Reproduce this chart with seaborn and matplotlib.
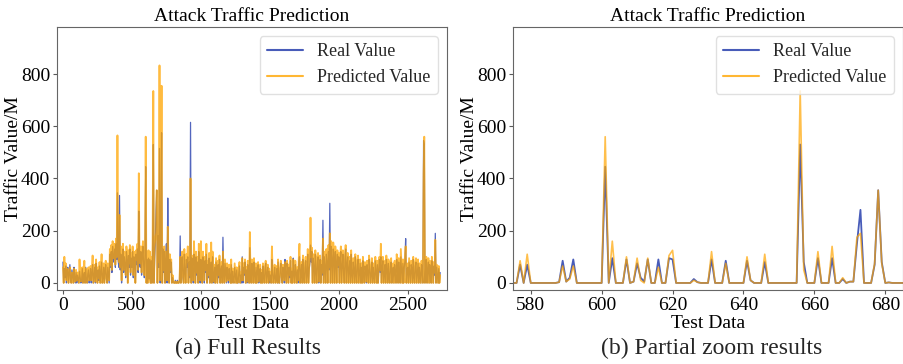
import numpy as np
import seaborn as sns
from matplotlib import pyplot as plt

# ------------------------------------------------------------------------------------------------------------
# Full test set (sampled every 5 points), read off panel (a)
full_step = 5
full_real = [
    80, 0, 55, 20, 65, 0, 45, 60, 0, 35, 70, 10, 0, 50, 25, 0, 60, 15, 0, 40,
    0, 30, 15, 0, 45, 20, 0, 10, 55, 0, 25, 40, 0, 60, 5, 0, 35, 50, 0, 20,
    55, 0, 40, 70, 0, 25, 60, 0, 75, 30, 0, 50, 10, 65, 0, 40, 80, 0, 20, 60,
    0, 45, 70, 15, 0, 60, 30, 0, 110, 60, 120, 40, 140, 80, 100, 130, 60, 150, 90, 345,
    90, 60, 335, 50, 110, 0, 80, 130, 40, 100, 70, 20, 120, 90, 0, 105, 60, 130, 30, 95,
    60, 120, 20, 100, 80, 0, 110, 70, 130, 40, 275, 90, 60, 120, 30, 100, 140, 70, 20, 110,
    445, 0, 90, 0, 95, 15, 90, 0, 85, 0, 120, 530, 0, 95, 160, 280, 355, 0, 180, 60,
    515, 0, 150, 575, 0, 130, 40, 120, 0, 90, 150, 0, 325, 70, 0, 90, 40, 80, 0, 20,
    5, 0, 0, 10, 0, 0, 10, 0, 0, 5, 180, 0, 60, 100, 20, 0, 110, 40, 0, 90,
    60, 100, 0, 80, 20, 615, 0, 95, 40, 0, 110, 60, 0, 100, 30, 80, 0, 120, 50, 0,
    90, 30, 0, 100, 60, 0, 85, 40, 110, 0, 70, 20, 95, 0, 50, 80, 0, 100, 30, 0,
    60, 0, 80, 40, 0, 70, 20, 90, 0, 50, 65, 0, 175, 30, 0, 75, 40, 0, 60, 20,
    0, 55, 20, 0, 70, 0, 45, 10, 0, 60, 30, 0, 50, 0, 0, 40, 65, 0, 30, 0,
    100, 0, 60, 30, 80, 0, 50, 0, 70, 40, 0, 135, 20, 0, 75, 50, 0, 80, 30, 0,
    60, 0, 45, 70, 0, 30, 55, 0, 40, 0, 65, 20, 0, 50, 75, 0, 35, 60, 0, 45,
    0, 30, 0, 90, 40, 0, 20, 60, 0, 10, 55, 0, 80, 0, 0, 45, 75, 20, 0, 60,
    40, 0, 90, 30, 0, 75, 50, 0, 60, 20, 85, 0, 45, 0, 95, 30, 0, 70, 40, 0,
    50, 0, 80, 100, 0, 40, 70, 0, 90, 20, 0, 60, 85, 0, 30, 110, 0, 50, 75, 145,
    80, 120, 0, 95, 60, 0, 110, 40, 0, 85, 100, 0, 50, 90, 0, 70, 30, 240, 0, 100,
    60, 0, 110, 80, 0, 120, 50, 305, 0, 140, 90, 0, 130, 100, 0, 120, 80, 0, 110, 60,
    100, 0, 80, 120, 0, 60, 110, 40, 0, 90, 130, 0, 70, 100, 0, 50, 85, 0, 110, 30,
    0, 80, 50, 0, 100, 30, 0, 70, 90, 0, 40, 75, 0, 60, 0, 85, 30, 0, 65, 45,
    0, 70, 40, 0, 90, 55, 0, 30, 80, 0, 60, 20, 0, 85, 45, 0, 70, 0, 50, 90,
    40, 100, 0, 60, 85, 0, 30, 70, 0, 90, 50, 0, 75, 20, 0, 65, 80, 0, 45, 60,
    0, 70, 40, 0, 90, 60, 0, 80, 30, 0, 100, 50, 0, 75, 0, 60, 85, 170, 0, 50,
    60, 0, 80, 40, 0, 70, 55, 0, 90, 20, 0, 65, 80, 0, 40, 75, 0, 60, 30, 0,
    70, 40, 0, 545, 530, 0, 60, 90, 0, 50, 80, 0, 70, 40, 0, 85, 55, 0, 65, 30,
    190, 0, 60, 30, 0, 55, 0, 40,
]
full_pred = [
    60, 0, 100, 30, 75, 10, 55, 50, 0, 45, 60, 20, 0, 40, 30, 0, 55, 25, 5, 50,
    10, 40, 20, 0, 90, 30, 5, 20, 60, 0, 35, 85, 0, 55, 15, 0, 45, 60, 10, 30,
    65, 10, 50, 105, 0, 35, 70, 5, 90, 40, 0, 60, 20, 80, 0, 50, 110, 0, 30, 75,
    0, 55, 85, 20, 0, 75, 40, 10, 130, 70, 145, 50, 160, 95, 120, 150, 70, 170, 100, 565,
    110, 80, 260, 60, 140, 10, 100, 150, 50, 120, 85, 30, 140, 110, 0, 125, 75, 145, 40, 115,
    80, 140, 30, 120, 95, 0, 125, 90, 150, 50, 420, 100, 75, 140, 40, 120, 160, 85, 30, 130,
    560, 0, 100, 0, 125, 10, 120, 0, 100, 0, 150, 735, 0, 140, 170, 190, 355, 0, 200, 80,
    833, 10, 180, 755, 0, 130, 50, 140, 0, 110, 120, 10, 215, 80, 0, 110, 50, 90, 0, 30,
    10, 0, 0, 5, 0, 0, 5, 0, 0, 10, 100, 0, 75, 120, 30, 0, 130, 50, 0, 110,
    80, 140, 0, 100, 30, 400, 0, 105, 50, 10, 160, 70, 0, 120, 40, 100, 0, 150, 60, 10,
    160, 40, 0, 120, 70, 10, 100, 50, 150, 0, 85, 30, 115, 0, 60, 155, 0, 120, 40, 5,
    70, 0, 95, 50, 0, 85, 30, 105, 0, 60, 80, 0, 120, 40, 0, 90, 50, 5, 75, 30,
    10, 70, 30, 0, 90, 0, 55, 20, 0, 75, 40, 0, 60, 0, 5, 50, 80, 0, 40, 10,
    95, 10, 75, 40, 90, 0, 60, 5, 85, 50, 0, 195, 30, 0, 90, 60, 0, 95, 40, 0,
    75, 0, 55, 80, 5, 40, 70, 0, 50, 0, 75, 30, 0, 60, 85, 0, 45, 70, 0, 55,
    10, 40, 0, 140, 50, 0, 30, 70, 0, 20, 65, 0, 90, 5, 0, 55, 85, 30, 0, 70,
    50, 10, 80, 40, 0, 85, 60, 0, 70, 30, 100, 0, 55, 0, 90, 40, 0, 85, 50, 0,
    60, 10, 95, 150, 0, 50, 80, 0, 105, 30, 0, 75, 100, 0, 40, 130, 0, 60, 90, 250,
    100, 135, 0, 110, 75, 0, 125, 50, 0, 100, 115, 5, 60, 105, 0, 85, 40, 170, 0, 120,
    75, 0, 130, 95, 0, 145, 60, 190, 0, 160, 110, 0, 155, 115, 0, 140, 95, 0, 125, 70,
    115, 0, 95, 140, 0, 75, 125, 50, 0, 105, 145, 0, 85, 115, 0, 60, 100, 0, 125, 40,
    0, 95, 60, 0, 110, 40, 0, 85, 105, 0, 50, 90, 0, 75, 0, 100, 40, 0, 80, 55,
    5, 85, 50, 0, 105, 65, 0, 40, 95, 0, 75, 30, 0, 100, 55, 0, 85, 0, 60, 100,
    50, 150, 0, 75, 100, 0, 40, 85, 0, 105, 60, 0, 90, 30, 0, 80, 95, 0, 55, 75,
    0, 85, 50, 0, 110, 70, 0, 95, 40, 0, 130, 60, 0, 90, 0, 75, 100, 140, 0, 60,
    75, 0, 95, 50, 0, 85, 65, 0, 100, 30, 0, 80, 95, 0, 50, 90, 0, 75, 40, 0,
    85, 50, 0, 420, 560, 0, 75, 100, 0, 60, 95, 0, 85, 50, 0, 100, 65, 0, 80, 40,
    165, 0, 70, 40, 0, 65, 0, 30,
]

# Zoomed part, every test point from 575 to 685
zoom_start = 575
zoom_real = [
    0, 0, 70, 0, 70, 0, 0, 0, 0, 0,
    0, 0, 0, 3, 85, 5, 20, 90, 0, 0,
    0, 0, 0, 0, 0, 0, 445, 0, 95, 0,
    0, 0, 90, 0, 5, 75, 20, 5, 90, 0,
    0, 90, 0, 0, 95, 90, 0, 0, 0, 0,
    0, 15, 3, 0, 0, 0, 90, 0, 0, 0,
    85, 0, 0, 0, 0, 0, 85, 10, 0, 0,
    0, 80, 0, 0, 0, 0, 0, 0, 0, 0,
    0, 530, 80, 0, 0, 0, 95, 0, 0, 0,
    95, 0, 0, 15, 0, 5, 5, 150, 280, 0,
    0, 0, 70, 355, 80, 0, 2, 0, 0, 0,
    0,
]
zoom_pred = [
    0, 0, 85, 0, 110, 0, 0, 0, 0, 0,
    0, 0, 0, 3, 65, 5, 15, 65, 0, 0,
    0, 0, 0, 0, 0, 0, 560, 0, 160, 0,
    0, 0, 100, 0, 5, 95, 10, 0, 95, 0,
    0, 60, 0, 0, 105, 125, 0, 0, 0, 0,
    0, 10, 3, 0, 0, 0, 120, 0, 0, 0,
    75, 0, 0, 0, 0, 0, 100, 10, 0, 0,
    0, 110, 0, 0, 0, 0, 0, 0, 0, 0,
    0, 735, 50, 0, 0, 0, 120, 0, 0, 0,
    140, 0, 0, 20, 0, 5, 5, 175, 190, 0,
    0, 0, 75, 355, 75, 0, 2, 0, 0, 0,
    0,
]

blue = '#1a33a8'
orange = '#ffa500'

sns.set_style("ticks")
plt.rcParams['font.family'] = ['Liberation Serif', 'DejaVu Serif']

fig = plt.figure(figsize=(9.04, 3.64), dpi=100)
ax1 = fig.add_axes([0.0631, 0.2033, 0.4314, 0.7225])
ax2 = fig.add_axes([0.5675, 0.2033, 0.4314, 0.7225])

full_x = np.arange(len(full_real)) * full_step
zoom_x = np.arange(len(zoom_real)) + zoom_start

# full view: orange drawn thicker so the dense spikes fill in like the original
sns.lineplot(x=full_x, y=full_real, ax=ax1, color=blue, lw=0.9, alpha=0.75, label='Real Value')
sns.lineplot(x=full_x, y=full_pred, ax=ax1, color=orange, lw=1.3, alpha=0.75, label='Predicted Value')
ax1.set_xlim(-43, 2785)
ax1.set_xticks([0, 500, 1000, 1500, 2000, 2500])

sns.lineplot(x=zoom_x, y=zoom_real, ax=ax2, color=blue, lw=1.3, alpha=0.8, label='Real Value')
sns.lineplot(x=zoom_x, y=zoom_pred, ax=ax2, color=orange, lw=1.2, alpha=0.7, label='Predicted Value')
ax2.set_xlim(575, 685)
ax2.set_xticks([580, 600, 620, 640, 660, 680])

for ax in (ax1, ax2):
    ax.set_ylim(-27, 980)
    ax.set_yticks([0, 200, 400, 600, 800])
    ax.set_title("Attack Traffic Prediction", fontsize=14, pad=4, color='black')
    ax.set_xlabel("Test Data", fontsize=14, labelpad=1, color='black')
    ax.set_ylabel("Traffic Value/M", fontsize=14, color='black')
    ax.yaxis.set_label_coords(-0.09, 0.5)
    ax.tick_params(labelsize=14, colors='0.35', labelcolor='black', length=3, width=0.8, pad=2)
    for s in ax.spines.values():
        s.set_visible(True)
        s.set_color('0.4')
        s.set_linewidth(0.8)
    leg = ax.legend(loc='upper right', fontsize=13, frameon=True, fancybox=True,
                    framealpha=0.8, edgecolor='0.85')
    for line in leg.get_lines():
        line.set_linewidth(1.5)
        line.set_alpha(0.8)

fig.text(248 / 904, 1 - 348 / 364, "(a) Full Results", ha='center', va='center', fontsize=17)
fig.text(712 / 904, 1 - 348 / 364, "(b) Partial zoom results", ha='center', va='center', fontsize=17)

fig.savefig("out.png", dpi=100)
